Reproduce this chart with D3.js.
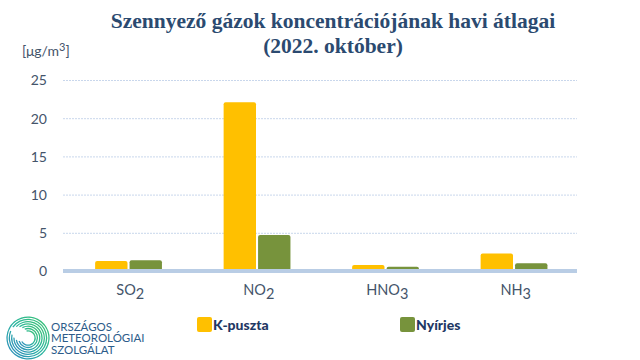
<!DOCTYPE html>
<html>
<head>
<meta charset="utf-8">
<script src="https://cdn.jsdelivr.net/npm/d3@7/dist/d3.min.js"></script>
<style>
  html, body { margin: 0; padding: 0; background: #ffffff; }
  svg { display: block; }
</style>
</head>
<body>
<div id="chart"></div>
<script>
// ---- data ----
const categories = ["SO", "NO", "HNO", "NH"];
const categorySubs = ["2", "2", "3", "3"];
const seriesNames = ["K-puszta", "Nyírjes"];
const kpusztaValues = [1.3, 22.1, 0.8, 2.3];
const nyirjesValues = [1.4, 4.7, 0.55, 1.0];
const yTicks = [0, 5, 10, 15, 20, 25];
const titleLines = ["Szennyező gázok koncentrációjának havi átlagai", "(2022. október)"];
const unitLabel = "[μg/m";
const logoLines = ["ORSZÁGOS", "METEOROLÓGIAI", "SZOLGÁLAT"];

const colors = ["#FFC000", "#77933C"];
const W = 640, H = 360;
const svg = d3.select("#chart").append("svg").attr("width", W).attr("height", H);

const plot = { left: 63, right: 577, top: 80, bottom: 271 };

const x0 = d3.scaleBand().domain(categories).range([plot.left, plot.right]).padding(0);
const bw = x0.bandwidth();
const x1 = d3.scaleBand().domain(seriesNames).range([bw * 0.25, bw * 0.77]).paddingInner(0.06);
const y = d3.scaleLinear().domain([0, 25]).range([plot.bottom, plot.top]);

// gridlines
svg.append("g").selectAll("line").data(yTicks.filter(d => d > 0)).join("line")
  .attr("x1", plot.left).attr("x2", plot.right)
  .attr("y1", d => y(d) + 0.5).attr("y2", d => y(d) + 0.5)
  .attr("stroke", "#c9d7ec").attr("stroke-width", 1).attr("stroke-dasharray", "2,1");

// y axis tick labels
const yAxis = d3.axisLeft(y).tickValues(yTicks).tickSize(0).tickPadding(0);
const yg = svg.append("g").attr("transform", `translate(${47},0)`).call(yAxis);
yg.select(".domain").remove();
yg.selectAll("text").attr("font-family", "Lato, 'Open Sans', sans-serif").attr("font-size", 14)
  .attr("fill", "#44546A").attr("dy", "0.35em");

// bars
const rows = categories.map((c, i) => ({ cat: c, vals: [kpusztaValues[i], nyirjesValues[i]] }));
function barPath(x, yTop, w, h, r) {
  r = Math.min(r, h / 2, w / 2);
  return `M${x},${yTop + h} V${yTop + r} Q${x},${yTop} ${x + r},${yTop} H${x + w - r} Q${x + w},${yTop} ${x + w},${yTop + r} V${yTop + h} Z`;
}
const groups = svg.append("g").selectAll("g").data(rows).join("g")
  .attr("transform", d => `translate(${x0(d.cat)},0)`);
groups.selectAll("path").data(d => d.vals.map((v, j) => ({ name: seriesNames[j], v, j }))).join("path")
  .attr("d", d => barPath(x1(d.name), y(d.v), x1.bandwidth(), y(0) - y(d.v), 2))
  .attr("fill", d => colors[d.j]);

// baseline
svg.append("line").attr("x1", plot.left).attr("x2", plot.right)
  .attr("y1", y(0)).attr("y2", y(0)).attr("stroke", "#B9CDE5").attr("stroke-width", 4);

// x labels
const xl = svg.append("g").selectAll("text").data(categories).join("text")
  .attr("x", d => x0(d) + bw / 2 + 3).attr("y", 295)
  .attr("text-anchor", "middle").attr("font-family", "Lato, 'Open Sans', sans-serif")
  .attr("font-size", 14.5).attr("fill", "#44546A");
xl.append("tspan").text(d => d);
xl.append("tspan").attr("dy", 4).text((d, i) => categorySubs[i]);

// title
const title = svg.append("g");
titleLines.forEach((t, i) => {
  title.append("text").attr("x", 333).attr("y", 28 + i * 25).attr("text-anchor", "middle")
    .attr("font-family", "'Liberation Serif', 'DejaVu Serif', serif").attr("font-weight", "bold")
    .attr("font-size", 21.5).attr("fill", "#2B4A70").text(t);
});

// unit label
const ul = svg.append("text").attr("x", 22).attr("y", 56)
  .attr("font-family", "Lato, 'Open Sans', sans-serif").attr("font-size", 14).attr("fill", "#44546A");
ul.append("tspan").text(unitLabel);
ul.append("tspan").attr("dy", -5).attr("font-size", 11).text("3");
ul.append("tspan").attr("dy", 5).text("]");

// legend
const legendX = [197, 400];
seriesNames.forEach((n, i) => {
  svg.append("rect").attr("x", legendX[i]).attr("y", 317).attr("width", 15).attr("height", 15)
    .attr("rx", 2).attr("fill", colors[i]);
  svg.append("text").attr("x", legendX[i] + 16).attr("y", 329.5)
    .attr("font-family", "Lato, 'Open Sans', sans-serif").attr("font-weight", "900")
    .attr("font-size", 14).attr("fill", "#1F3864").text(n);
});

// logo
const logo = svg.append("g");
const cx = 28, cy = 338;
const grad = svg.append("defs").append("linearGradient").attr("id", "lg")
  .attr("x1", "0").attr("y1", "1").attr("x2", "1").attr("y2", "0");
grad.append("stop").attr("offset", "0").attr("stop-color", "#2E86C1");
grad.append("stop").attr("offset", "0.5").attr("stop-color", "#2BB5A0");
grad.append("stop").attr("offset", "1").attr("stop-color", "#3CC46E");
const spiral = [];
for (let k = 0; k < 7; k++) {
  const r = 6.5 + k * 2.3;
  spiral.push({ r, start: -0.2 - k * 0.15, end: 4.2 + k * 0.18 });
}
logo.selectAll("path").data(spiral).join("path")
  .attr("d", d => d3.arc().innerRadius(d.r).outerRadius(d.r + 1.3).startAngle(d.start).endAngle(d.end)())
  .attr("transform", `translate(${cx},${cy})`)
  .attr("fill", "url(#lg)");
logoLines.forEach((t, i) => {
  logo.append("text").attr("x", 51).attr("y", 330.5 + i * 11.5)
    .attr("font-family", "Lato, 'Open Sans', sans-serif").attr("font-size", 11.5)
    .attr("fill", "#2C5C8A").text(t);
});
</script>
</body>
</html>
